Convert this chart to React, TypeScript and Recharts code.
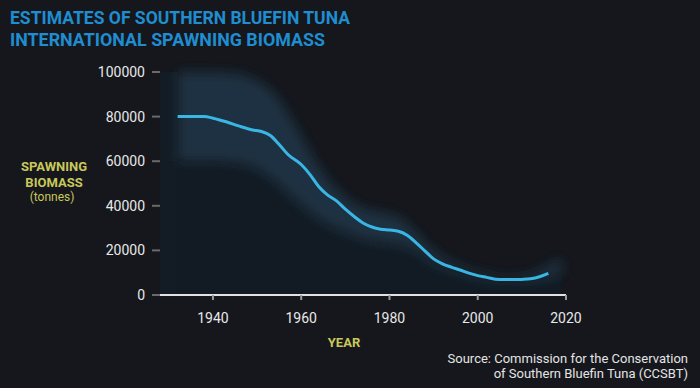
import React from 'react';
import { ComposedChart, Area, Line, XAxis, YAxis, ReferenceArea } from 'recharts';

// spawning biomass estimate (tonnes)
const lineYears = [1932, 1935, 1938, 1940, 1943, 1946, 1949, 1951, 1953, 1955, 1957, 1960, 1962, 1964, 1966, 1968, 1970, 1972, 1974, 1976, 1978, 1980, 1982, 1984, 1986, 1988, 1990, 1992, 1994, 1996, 1998, 2000, 2002, 2004, 2006, 2008, 2010, 2012, 2014, 2016];
const biomass = [80000, 80000, 80000, 79300, 77700, 75700, 74000, 73300, 71500, 67500, 63000, 58500, 54000, 48500, 44800, 42200, 38500, 35200, 32300, 30500, 29500, 29100, 28600, 26800, 23500, 19800, 16200, 14000, 12500, 11200, 9800, 8700, 7900, 7100, 6900, 6900, 7000, 7300, 8200, 9700];

// uncertainty band
const bandYears = [1932, 1940, 1946, 1950, 1954, 1958, 1962, 1966, 1970, 1974, 1978, 1982, 1986, 1990, 1994, 1998, 2002, 2006, 2010, 2014, 2019];
const bandLow = [60000, 60000, 59000, 56500, 51000, 44000, 37000, 31500, 28000, 25000, 23500, 22500, 19500, 14000, 11000, 8500, 7000, 6000, 6000, 7000, 9000];
const bandHigh = [100000, 100000, 99000, 96000, 90000, 78000, 64000, 52000, 44000, 39000, 37000, 35000, 28000, 20000, 15000, 11500, 9500, 8000, 8500, 11000, 17000];

const yTicks = [0, 20000, 40000, 60000, 80000, 100000];
const xTicks = [1940, 1960, 1980, 2000, 2020];

const lineData = lineYears.map((year, i) => ({ year, biomass: biomass[i] }));
const bandData = bandYears.map((year, i) => ({ year, base: [0, bandLow[i]], band: [bandLow[i], bandHigh[i]] }));

const BG = '#15171c';
const YELLOW = '#c9c85a';
const tickStyle = { fontSize: 14, fill: '#e8e8e8', fontFamily: 'Roboto' };

export default function App() {
  return (
    <div style={{ position: 'relative', width: 700, height: 388, background: BG }}>
      <style>{'body{margin:0}'}</style>
      <ComposedChart width={700} height={388} margin={{ top: 72, right: 134, left: 0, bottom: 63 }}>
        <defs>
          <filter id="soft" x="-20%" y="-20%" width="140%" height="140%">
            <feGaussianBlur stdDeviation="6" />
          </filter>
        </defs>
        <XAxis
          dataKey="year"
          type="number"
          domain={[1928, 2020]}
          ticks={xTicks}
          height={30}
          tick={tickStyle}
          tickSize={5}
          tickMargin={13}
          axisLine={{ stroke: '#e2e2e2', strokeWidth: 2 }}
          tickLine={{ stroke: '#9a9a9a', strokeWidth: 2 }}
          allowDuplicatedCategory={false}
        />
        <YAxis
          type="number"
          domain={[0, 100000]}
          ticks={yTicks}
          width={160}
          tick={tickStyle}
          tickSize={8}
          tickMargin={7}
          axisLine={false}
          tickLine={{ stroke: '#6a6a6a', strokeWidth: 2 }}
        />
        <ReferenceArea x1={1928} x2={1932} y1={0} y2={100000} fill="#131c25" fillOpacity={1} stroke="none" />
        <Area data={bandData} dataKey="base" type="monotone" fill="#121b24" fillOpacity={1} stroke="none" isAnimationActive={false} />
        <Area data={bandData} dataKey="band" type="monotone" fill="#1c3447" fillOpacity={0.9} stroke="none" filter="url(#soft)" isAnimationActive={false} />
        <Line data={lineData} dataKey="biomass" type="monotone" stroke="#3ab6e5" strokeWidth={3} dot={false} isAnimationActive={false} />
      </ComposedChart>
      <svg width={700} height={388} style={{ position: 'absolute', left: 0, top: 0, pointerEvents: 'none' }}>
        <g fontFamily="Roboto" fontWeight={700} fill="#1f8dd0" fontSize={18}>
          <text x={10} y={24} textLength={340} lengthAdjust="spacingAndGlyphs">ESTIMATES OF SOUTHERN BLUEFIN TUNA</text>
          <text x={10} y={46} textLength={315} lengthAdjust="spacingAndGlyphs">INTERNATIONAL SPAWNING BIOMASS</text>
        </g>
        <g fontFamily="Roboto" fill={YELLOW} textAnchor="middle">
          <text x={54} y={171} fontSize={13} fontWeight={700}>SPAWNING</text>
          <text x={54} y={187} fontSize={13} fontWeight={700}>BIOMASS</text>
          <text x={52} y={201} fontSize={12}>(tonnes)</text>
          <text x={344} y={347} fontSize={13} fontWeight={700}>YEAR</text>
        </g>
        <g fontFamily="Roboto" fill="#e4e4e4" fontSize={13} textAnchor="end">
          <text x={688} y={363}>Source: Commission for the Conservation</text>
          <text x={688} y={378}>of Southern Bluefin Tuna (CCSBT)</text>
        </g>
      </svg>
    </div>
  );
}
